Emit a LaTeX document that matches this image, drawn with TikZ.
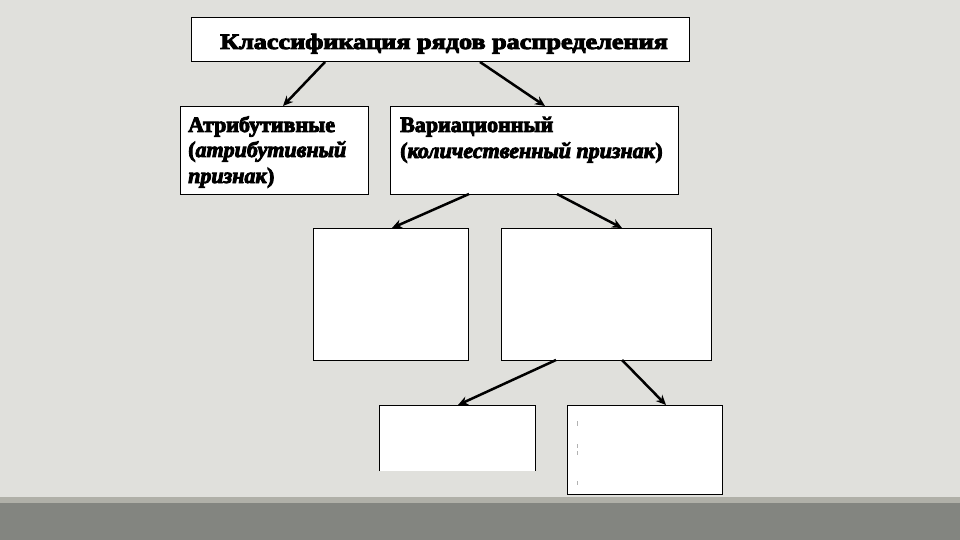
\documentclass[tikz,border=0pt]{standalone}
\usepackage{fontspec}
\setmainfont[BoldFeatures={FakeBold=4},BoldItalicFeatures={FakeBold=4}]{Liberation Serif}
\definecolor{bgc}{HTML}{E0E0DC}
\definecolor{bandc}{HTML}{838580}
\definecolor{stripc}{HTML}{B0B0A8}
\usetikzlibrary{arrows.meta}
\tikzset{
  box/.style={draw=black, line width=1pt, fill=white},
  conn/.style={-{Stealth[length=10pt,width=9pt]}, line width=2.5pt},
  txt/.style={font=\bfseries\fontsize{22}{26}\selectfont, anchor=base west, inner sep=0pt},
  faintmark/.style={draw=gray!60, line width=0.8pt}
}
\begin{document}
\begin{tikzpicture}[x=1pt,y=-1pt]
\useasboundingbox (0,0) rectangle (960,540);
\fill[bgc] (0,0) rectangle (960,540);
\fill[stripc] (0,497) rectangle (960,503);
\fill[bandc] (0,503) rectangle (960,540);
% boxes
\draw[box] (191,18) rectangle (689,62);
\draw[box] (180,107) rectangle (368,194);
\draw[box] (390,107) rectangle (678,194);
\draw[box] (313,228) rectangle (468,360);
\draw[box] (501,228) rectangle (711,360);
\fill[white] (379,405) rectangle (535,471);
\draw[line width=1pt] (379,471) -- (379,405) -- (535,405) -- (535,471);
\draw[box] (567,405) rectangle (722,494);
% anchors
\coordinate (t1) at (325,62); \coordinate (a1) at (283,106);
\coordinate (t2) at (480,62); \coordinate (v1) at (545,106);
\coordinate (v2) at (469,194); \coordinate (b3) at (392,228);
\coordinate (v3) at (557,194); \coordinate (b4) at (622,228);
\coordinate (b4a) at (556,360); \coordinate (b5) at (458,405);
\coordinate (b4b) at (622,360); \coordinate (b6) at (666,405);
\draw[conn] (t1) -- (a1);
\draw[conn] (t2) -- (v1);
\draw[conn] (v2) -- (b3);
\draw[conn] (v3) -- (b4);
\draw[conn] (b4a) -- (b5);
\draw[conn] (b4b) -- (b6);
% texts
\node[txt, anchor=base, xscale=1.19] (title) at (444,49) {Классификация рядов распределения};
\node[txt] (at1) at (188,132) {Атрибутивные};
\node[txt] (at2) at (188,157) {(\textit{атрибутивный}};
\node[txt] (at3) at (188,183) {\textit{признак})};
\node[txt] (va1) at (400,132) {Вариационный};
\node[txt] (va2) at (400,158) {(\textit{количественный признак})};
% faint marks
\draw[faintmark] (577,421) -- (577,426);
\draw[faintmark] (577,444) -- (577,448);
\draw[faintmark] (577,451) -- (577,455);
\draw[faintmark] (577,481) -- (577,485);
\end{tikzpicture}
\end{document}
